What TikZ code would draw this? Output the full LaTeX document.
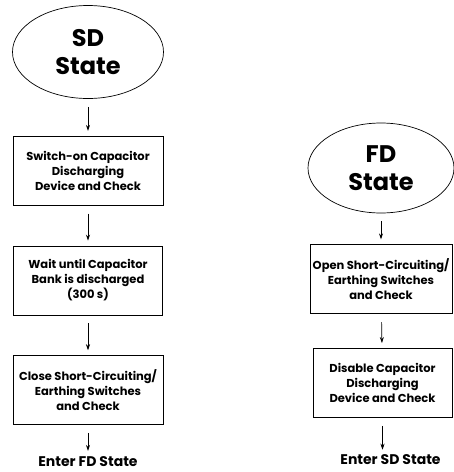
\documentclass[tikz,border=0pt]{standalone}
\usepackage{fontspec}
\setmainfont{Poppins}
\usetikzlibrary{arrows.meta,positioning,shapes.geometric}

\begin{document}
\begin{tikzpicture}[
    x=1pt, y=1pt,
    state/.style={draw, ellipse, line width=0.7pt, inner sep=0pt, align=center,
        font=\fontsize{24}{28}\selectfont\bfseries},
    stepbox/.style={draw, line width=0.7pt, minimum height=69pt, inner sep=1pt,
        align=center, font=\fontsize{11.5}{15}\selectfont\bfseries},
    enter/.style={inner sep=0pt, font=\fontsize{14}{16}\selectfont\bfseries},
    flow/.style={-{Stealth[length=6pt,width=4pt]}, line width=0.7pt,
        shorten <=8pt, shorten >=5pt}
]
\useasboundingbox (0,0) rectangle (454,-472);
% SD state column
\node[state, minimum width=151pt, minimum height=93pt] (sd) at (88,-52) {SD\\State};
\node[stepbox, minimum width=150pt, below=37pt of sd] (swon) {Switch-on Capacitor\\Discharging\\Device and Check};
\node[stepbox, minimum width=149pt, below=40pt of swon] (wait) {Wait until Capacitor\\Bank is discharged\\(300 s)};
\node[stepbox, minimum width=150pt, below=40pt of wait] (close) {Close Short-Circuiting/\\Earthing Switches\\and Check};
\node[enter, below=31pt of close] (tofd) {Enter FD State};
% FD state column
\node[state, minimum width=146pt, minimum height=90pt] (fd) at (381,-168) {FD\\State};
\node[stepbox, minimum width=142pt, below=31pt of fd] (open) {Open Short-Circuiting/\\Earthing Switches\\and Check};
\node[stepbox, minimum width=139pt, below=34pt of open, xshift=1.5pt] (disable) {Disable Capacitor\\Discharging\\Device and Check};
\node[enter, below=37pt of disable, xshift=8pt] (tosd) {Enter SD State};

\draw[flow] (sd) -- (swon);
\draw[flow] (swon) -- (wait);
\draw[flow] (wait) -- (close);
\draw[flow] (close) -- (tofd);
\draw[flow] (fd) -- (open);
\draw[flow] (open) -- (disable);
\draw[flow] (disable.south) -- (disable.south |- tosd.north);
\end{tikzpicture}
\end{document}
